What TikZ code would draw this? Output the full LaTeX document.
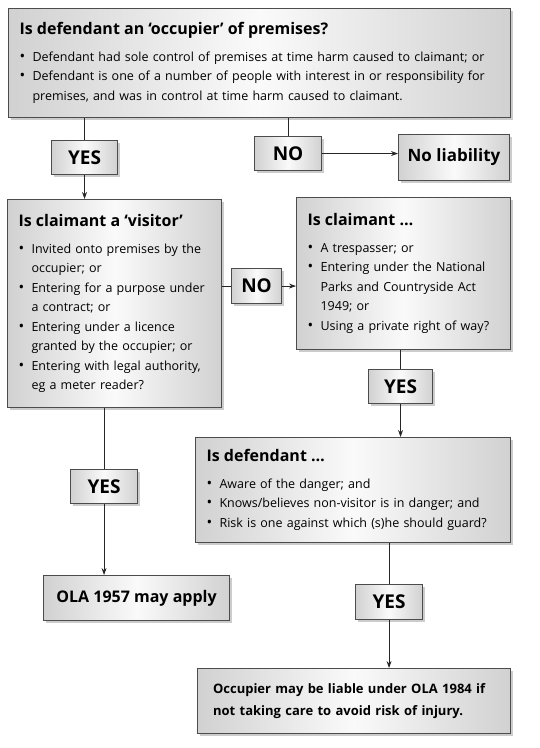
\documentclass[tikz,border=0pt]{standalone}
\usepackage{fontspec}
\setmainfont{Open Sans}
\usetikzlibrary{arrows.meta,shadows}
\setlength\parindent{0pt}

\newcommand\boxtitle[1]{{\fontsize{16}{18}\selectfont\bfseries #1\par}\vspace{7pt}}
\newcommand\bitem{\par\hangindent=13pt\hangafter=1\makebox[13pt][l]{\scalebox{1.2}{\textbullet}}}

\begin{document}
\begin{tikzpicture}[x=1pt,y=1pt,
    box/.style={draw=black!70,line width=1.1pt,anchor=north west,
      left color=black!18,right color=black!18,middle color=black!2,
      drop shadow={shadow xshift=2.5pt,shadow yshift=-2.5pt,fill=black!50,opacity=.4},
      inner xsep=11pt,inner ysep=0pt,align=left,
      font=\fontsize{12.5}{19.5}\selectfont},
    answer/.style={box,align=center,inner xsep=0pt,
      font=\fontsize{19}{22}\selectfont\bfseries},
    arr/.style={-{Stealth[length=7pt,width=5pt]},line width=0.9pt,black!85},
    lin/.style={line width=0.9pt,black!85}]
  \useasboundingbox (0,0) rectangle (540,-748);

  % questions
  \node[box,minimum width=502pt,minimum height=109pt,text width=480pt] (occ) at (8,-8)
    {\boxtitle{Is defendant an ‘occupier’ of premises?}
     \bitem Defendant had sole control of premises at time harm caused to claimant; or
     \bitem Defendant is one of a number of people with interest in or responsibility for\newline
       premises, and was in control at time harm caused to claimant.\par};
  \node[box,minimum width=214pt,minimum height=208pt,text width=192pt] (visitor) at (7,-199)
    {\boxtitle{Is claimant a ‘visitor’}
     \bitem Invited onto premises by the\newline occupier; or
     \bitem Entering for a purpose under\newline a contract; or
     \bitem Entering under a licence\newline granted by the occupier; or
     \bitem Entering with legal authority,\newline eg a meter reader?\par};
  \node[box,minimum width=214pt,minimum height=152pt,text width=192pt] (claim) at (296,-197)
    {\boxtitle{Is claimant …}
     \bitem A trespasser; or
     \bitem Entering under the National\newline Parks and Countryside Act\newline 1949; or
     \bitem Using a private right of way?\par\vspace{14pt}};
  \node[box,minimum width=313pt,minimum height=105pt,text width=293pt] (defend) at (195,-437)
    {\boxtitle{Is defendant …}
     \bitem Aware of the danger; and
     \bitem Knows/believes non-visitor is in danger; and
     \bitem Risk is one against which (s)he should guard?\par};

  % outcomes
  \node[box,minimum width=111pt,minimum height=46pt,align=center,inner xsep=0pt,
    font=\fontsize{17}{20}\selectfont\bfseries] (noliab) at (398,-134) {No liability};
  \node[box,minimum width=186pt,minimum height=45pt,align=center,inner xsep=0pt,
    font=\fontsize{16}{20}\selectfont\bfseries] (ola) at (43,-575) {OLA 1957 may apply};
  \node[box,minimum width=313pt,minimum height=65pt,text width=282pt,inner xsep=15.5pt,
    font=\fontsize{13}{22}\selectfont\bfseries] (final) at (197,-668)
    {Occupier may be liable under OLA 1984 if\\ not taking care to avoid risk of injury.};

  % answers
  \node[answer,minimum width=66pt,minimum height=34pt] (yes1) at (51,-140) {YES};
  \node[answer,minimum width=67pt,minimum height=34pt] (no1) at (254,-136) {NO};
  \node[answer,minimum width=50pt,minimum height=35pt] (no2) at (231,-268) {NO};
  \node[answer,minimum width=64pt,minimum height=34pt] (yes2) at (368,-369) {YES};
  \node[answer,minimum width=67pt,minimum height=34pt] (yes3) at (70,-469) {YES};
  \node[answer,minimum width=67pt,minimum height=35pt] (yes4) at (355,-584) {YES};

  % connectors
  \draw[lin] (occ.south -| yes1) -- (yes1);
  \draw[arr] (yes1) -- (yes1 |- visitor.north);
  \draw[lin] (occ.south -| no1) -- (no1);
  \draw[arr] (no1.east) -- (noliab.west |- no1.east);
  \draw[lin] (visitor.east |- no2) -- (no2);
  \draw[arr] (no2) -- (claim.west |- no2);
  \draw[lin] (claim.south -| yes2) -- (yes2);
  \draw[arr] (yes2) -- (yes2 |- defend.north);
  \draw[lin] (visitor.south -| yes3) -- (yes3);
  \draw[arr] (yes3) -- (yes3 |- ola.north);
  \draw[lin] (defend.south -| yes4) -- (yes4);
  \draw[arr] (yes4) -- (yes4 |- final.north);
\end{tikzpicture}
\end{document}
